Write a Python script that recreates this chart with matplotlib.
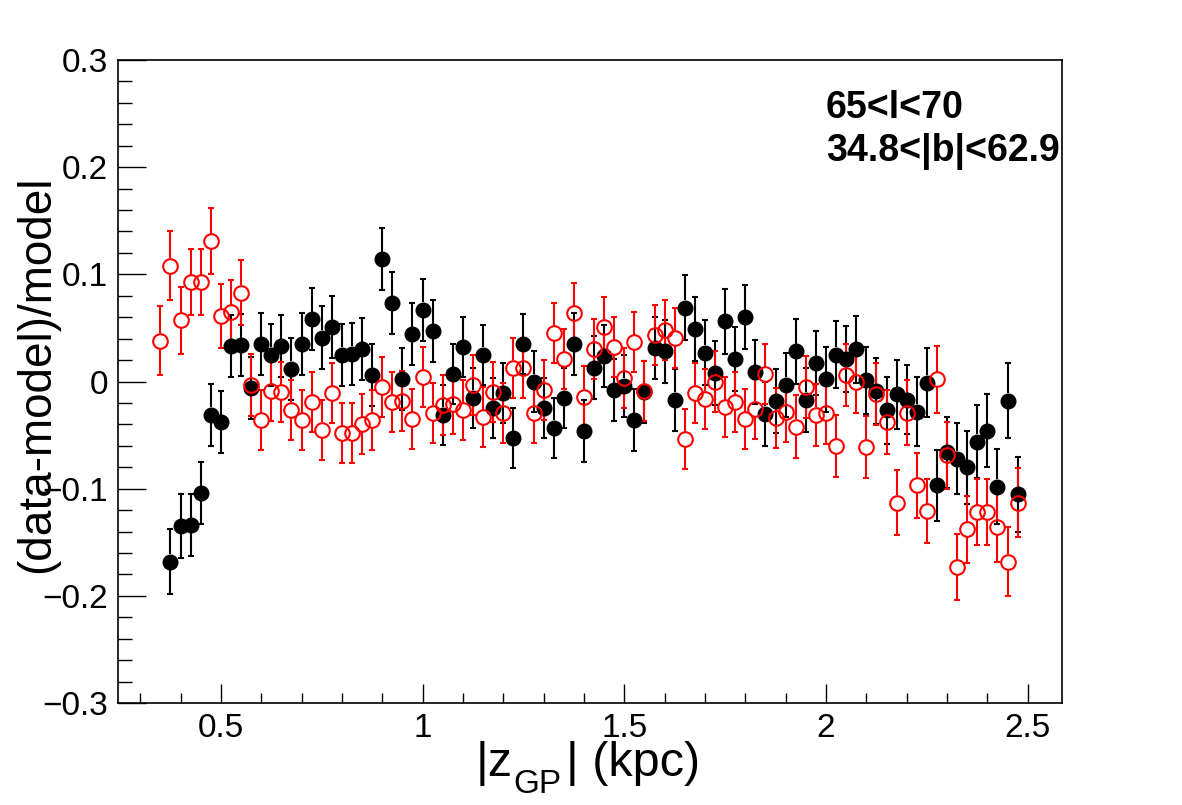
import matplotlib
matplotlib.use("Agg")
import matplotlib.pyplot as plt
import numpy as np

plt.rcParams["font.family"] = ["Liberation Sans", "DejaVu Sans"]

# |z_GP| bin centres (kpc)
z_red = [0.350, 0.375, 0.400, 0.425, 0.450, 0.475, 0.500, 0.525, 0.550, 0.575,
         0.600, 0.625, 0.650, 0.675, 0.700, 0.725, 0.750, 0.775, 0.800, 0.825,
         0.850, 0.875, 0.900, 0.925, 0.950, 0.975, 1.000, 1.025, 1.050, 1.075,
         1.100, 1.125, 1.150, 1.175, 1.200, 1.225, 1.250, 1.275, 1.300, 1.325,
         1.350, 1.375, 1.400, 1.425, 1.450, 1.475, 1.500, 1.525, 1.550, 1.575,
         1.600, 1.625, 1.650, 1.675, 1.700, 1.725, 1.750, 1.775, 1.800, 1.825,
         1.850, 1.875, 1.900, 1.925, 1.950, 1.975, 2.000, 2.025, 2.050, 2.075,
         2.100, 2.125, 2.150, 2.175, 2.200, 2.225, 2.250, 2.275, 2.300, 2.325,
         2.350, 2.375, 2.400, 2.425, 2.450, 2.475]
z_black = z_red[1:]

# (data-model)/model, open red circles
ratio_red = [0.038, 0.108, 0.057, 0.093, 0.093, 0.131, 0.061, 0.065, 0.083, -0.003,
             -0.036, -0.009, -0.010, -0.027, -0.036, -0.019, -0.045, -0.011, -0.048, -0.048,
             -0.040, -0.036, -0.005, -0.019, -0.018, -0.035, 0.004, -0.029, -0.022, -0.021,
             -0.027, -0.003, -0.033, -0.010, -0.029, 0.013, 0.013, -0.029, -0.008, 0.045,
             0.021, 0.064, -0.014, 0.030, 0.051, 0.032, 0.003, 0.037, -0.009, 0.043,
             0.048, 0.041, -0.054, -0.011, -0.016, 0.000, -0.024, -0.019, -0.035, -0.026,
             0.007, -0.034, -0.028, -0.042, -0.005, -0.031, -0.029, -0.060, 0.006, 0.000,
             -0.061, -0.012, -0.038, -0.113, -0.029, -0.097, -0.121, 0.002, -0.069, -0.173,
             -0.138, -0.122, -0.122, -0.136, -0.168, -0.113]
err_red = [0.032, 0.032, 0.031, 0.031, 0.031, 0.031, 0.030, 0.030, 0.030, 0.029,
           0.028, 0.028, 0.028, 0.028, 0.028, 0.028, 0.028, 0.028, 0.028, 0.028,
           0.028, 0.028, 0.028, 0.028, 0.028, 0.028, 0.028, 0.028, 0.028, 0.028,
           0.028, 0.028, 0.028, 0.028, 0.028, 0.028, 0.028, 0.028, 0.028, 0.028,
           0.028, 0.028, 0.028, 0.028, 0.028, 0.028, 0.028, 0.028, 0.028, 0.028,
           0.028, 0.028, 0.028, 0.028, 0.028, 0.028, 0.028, 0.028, 0.028, 0.028,
           0.028, 0.028, 0.028, 0.029, 0.029, 0.029, 0.029, 0.029, 0.029, 0.029,
           0.029, 0.029, 0.030, 0.030, 0.030, 0.030, 0.030, 0.031, 0.031, 0.031,
           0.031, 0.031, 0.031, 0.032, 0.032, 0.032]

# (data-model)/model, filled black circles
ratio_black = [-0.168, -0.135, -0.134, -0.104, -0.031, -0.038, 0.033, 0.034, -0.006, 0.035,
               0.025, 0.033, 0.012, 0.035, 0.058, 0.041, 0.051, 0.025, 0.026, 0.030,
               0.006, 0.114, 0.073, 0.002, 0.044, 0.067, 0.047, -0.031, 0.007, 0.032,
               -0.015, 0.025, -0.025, -0.011, -0.053, 0.035, 0.000, -0.025, -0.043, -0.015,
               0.035, -0.046, 0.013, 0.024, -0.008, -0.004, -0.036, -0.010, 0.031, 0.028,
               -0.017, 0.069, 0.049, 0.027, 0.008, 0.056, 0.021, 0.060, 0.009, -0.030,
               -0.018, -0.003, 0.028, -0.017, 0.017, 0.002, 0.025, 0.021, 0.030, 0.001,
               -0.009, -0.027, -0.012, -0.017, -0.028, -0.001, -0.097, -0.066, -0.072, -0.080,
               -0.056, -0.046, -0.098, -0.018, -0.105]
err_black = [0.030, 0.030, 0.029, 0.029, 0.029, 0.029, 0.029, 0.029, 0.029, 0.029,
             0.029, 0.029, 0.029, 0.029, 0.029, 0.029, 0.029, 0.029, 0.029, 0.029,
             0.029, 0.029, 0.029, 0.029, 0.029, 0.029, 0.029, 0.028, 0.028, 0.028,
             0.028, 0.028, 0.028, 0.028, 0.028, 0.028, 0.028, 0.028, 0.028, 0.028,
             0.029, 0.029, 0.029, 0.029, 0.029, 0.029, 0.029, 0.029, 0.029, 0.029,
             0.029, 0.030, 0.030, 0.030, 0.030, 0.030, 0.030, 0.030, 0.030, 0.030,
             0.030, 0.030, 0.030, 0.030, 0.030, 0.030, 0.031, 0.031, 0.031, 0.031,
             0.031, 0.031, 0.032, 0.032, 0.032, 0.032, 0.033, 0.033, 0.033, 0.034,
             0.034, 0.034, 0.035, 0.035, 0.035]

x_ticks = [0.5, 1.0, 1.5, 2.0, 2.5]
x_tick_labels = ["0.5", "1", "1.5", "2", "2.5"]
y_ticks = [-0.3, -0.2, -0.1, 0.0, 0.1, 0.2, 0.3]
y_tick_labels = ["\u22120.3", "\u22120.2", "\u22120.1", "0", "0.1", "0.2", "0.3"]
region_text = ["65<l<70", "34.8<|b|<62.9"]

W, H, DPI = 11.82, 8.05, 100
MARKER_PT = 10.5


def draw_points(ax, x, y, err, color, filled, gap):
    x = np.asarray(x)
    y = np.asarray(y)
    err = np.asarray(err)
    # ROOT style: bars stop at the marker edge
    ax.vlines(x, y + gap, y + err, colors=color, lw=1.5, zorder=3)
    ax.vlines(x, y - err, y - gap, colors=color, lw=1.5, zorder=3)
    ax.plot(x, y + err, ls="none", marker="_", ms=4.5, mew=1.5, color=color, zorder=3)
    ax.plot(x, y - err, ls="none", marker="_", ms=4.5, mew=1.5, color=color, zorder=3)
    if filled:
        ax.plot(x, y, ls="none", marker="o", ms=MARKER_PT, mfc=color, mec=color, zorder=4)
    else:
        ax.plot(x, y, ls="none", marker="o", ms=MARKER_PT, mfc="none", mec=color,
                mew=1.5, zorder=5)


def xlabel_pieces(fig, centre_px, base_px):
    # |z_GP| (kpc) with a ROOT-like low subscript
    pieces = [("|z", 35, 0), ("GP", 24, -17), ("| (kpc)", 35, 0)]
    gaps = [1, 5, 0]
    rend = fig.canvas.get_renderer()
    texts = []
    total = 0
    for (s, fs, dy), g in zip(pieces, gaps):
        t = fig.text(0, 0, s, fontsize=fs, va="baseline", ha="left")
        w = t.get_window_extent(rend).width
        texts.append((t, w, dy, g))
        total += w + g
    x = centre_px - total / 2
    for t, w, dy, g in texts:
        t.set_position((x / (W * DPI), (H * DPI - base_px + dy) / (H * DPI)))
        x += w + g


def main():
    fig = plt.figure(figsize=(W, H), dpi=DPI)
    ax = fig.add_axes([118 / 1182, 102 / 805, 944 / 1182, 643 / 805])
    ax.set_xlim(0.245, 2.585)
    ax.set_ylim(-0.3, 0.3)

    ax_h_px = 643
    gap = (MARKER_PT * DPI / 72 / 2) * 0.6 / ax_h_px

    draw_points(ax, z_black, ratio_black, err_black, "black", True, gap)
    draw_points(ax, z_red, ratio_red, err_red, "#ff0000", False, gap)

    ax.set_xticks(x_ticks)
    ax.set_xticklabels(x_tick_labels)
    ax.set_xticks(np.arange(0.3, 2.6, 0.1), minor=True)
    ax.set_yticks(y_ticks)
    ax.set_yticklabels(y_tick_labels)
    ax.set_yticks(np.arange(-0.3, 0.301, 0.02), minor=True)

    ax.tick_params(axis="both", which="both", direction="in", top=False, right=False,
                   labelsize=24, width=1.0)
    ax.tick_params(axis="x", which="major", length=13.5, pad=7)
    ax.tick_params(axis="x", which="minor", length=7)
    ax.tick_params(axis="y", which="major", length=20, pad=7)
    ax.tick_params(axis="y", which="minor", length=10)
    for s in ax.spines.values():
        s.set_linewidth(1.2)

    fig.text(37 / 1182, 1 - 374 / 805, "(data-model)/model", rotation=90,
             ha="center", va="center", fontsize=33)
    xlabel_pieces(fig, 588, 776)

    ax.text(0.75, 0.9098, region_text[0], transform=ax.transAxes, fontsize=27,
            fontweight="bold", va="baseline", ha="left")
    ax.text(0.75, 0.843, region_text[1], transform=ax.transAxes, fontsize=27,
            fontweight="bold", va="baseline", ha="left")

    fig.savefig("out.png", dpi=DPI)


if __name__ == "__main__":
    main()
